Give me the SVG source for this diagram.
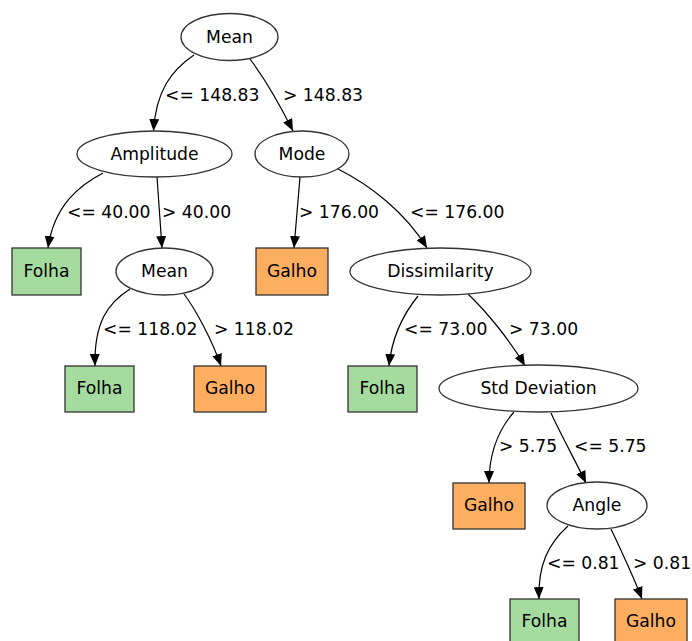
<svg xmlns="http://www.w3.org/2000/svg" width="692" height="641" viewBox="0 0 692 641">
<style>
.n{fill:#fff;stroke:#333;stroke-width:1.3}
.leafG{fill:#a6dba0;stroke:#333;stroke-width:1.3}
.leafO{fill:#fdae61;stroke:#333;stroke-width:1.3}
text{font-family:"DejaVu Sans",sans-serif;font-size:17.2px;fill:#000}
.c{text-anchor:middle}
.e{fill:none;stroke:#000;stroke-width:1.2}
</style>
<defs>
<marker id="ah" viewBox="0 0 12 10" refX="12" refY="5" markerWidth="12" markerHeight="10" markerUnits="userSpaceOnUse" orient="auto">
<path d="M0,0 L12,5 L0,10 Z" fill="#000"/>
</marker>
</defs>
<rect width="692" height="641" fill="#fff"/>
<g id="edges">
<path class="e" marker-end="url(#ah)" d="M194,55 C172,70 156,90 153.5,131"/>
<path class="e" marker-end="url(#ah)" d="M250,59 C262,75 280,105 293,131"/>
<path class="e" marker-end="url(#ah)" d="M103,173 C80,185 54,205 48,248"/>
<path class="e" marker-end="url(#ah)" d="M157,177 L162,248"/>
<path class="e" marker-end="url(#ah)" d="M300,177 L294,248"/>
<path class="e" marker-end="url(#ah)" d="M338,169 C370,185 405,212 427,248"/>
<path class="e" marker-end="url(#ah)" d="M130,289 C108,303 94,322 95,366"/>
<path class="e" marker-end="url(#ah)" d="M184,294 C196,310 212,340 221,366"/>
<path class="e" marker-end="url(#ah)" d="M418,296 C405,312 392,335 389,366"/>
<path class="e" marker-end="url(#ah)" d="M468,294 C485,310 510,340 525,366"/>
<path class="e" marker-end="url(#ah)" d="M514,412 C500,428 489,450 489,483"/>
<path class="e" marker-end="url(#ah)" d="M551,413 C560,433 576,462 586,483"/>
<path class="e" marker-end="url(#ah)" d="M568,526 C548,544 538,565 539,599"/>
<path class="e" marker-end="url(#ah)" d="M611,529 C620,548 634,578 642,599"/>
</g>
<g id="edge-labels">
<text x="165" y="101">&lt;= 148.83</text>
<text x="283" y="101">&gt; 148.83</text>
<text x="67" y="218">&lt;= 40.00</text>
<text x="162" y="218">&gt; 40.00</text>
<text x="299" y="218">&gt; 176.00</text>
<text x="410" y="218">&lt;= 176.00</text>
<text x="103" y="335">&lt;= 118.02</text>
<text x="214" y="335">&gt; 118.02</text>
<text x="404" y="335">&lt;= 73.00</text>
<text x="509" y="335">&gt; 73.00</text>
<text x="499" y="452">&gt; 5.75</text>
<text x="574" y="452">&lt;= 5.75</text>
<text x="547" y="569">&lt;= 0.81</text>
<text x="633" y="569">&gt; 0.81</text>
</g>
<g id="n0"><ellipse class="n" cx="229.5" cy="37" rx="48.5" ry="23.5"/><text class="c" x="229.5" y="42.5">Mean</text></g>
<g id="n1"><ellipse class="n" cx="154.5" cy="154" rx="77.5" ry="23"/><text class="c" x="154.5" y="159.5">Amplitude</text></g>
<g id="n2"><ellipse class="n" cx="302" cy="154" rx="47" ry="23"/><text class="c" x="302" y="159.5">Mode</text></g>
<g id="n3"><rect class="leafG" x="12" y="248" width="69" height="47"/><text class="c" x="46.5" y="277">Folha</text></g>
<g id="n4"><ellipse class="n" cx="164.5" cy="271.5" rx="48.5" ry="23.5"/><text class="c" x="164.5" y="277">Mean</text></g>
<g id="n5"><rect class="leafO" x="256" y="248" width="72" height="47"/><text class="c" x="292" y="277">Galho</text></g>
<g id="n6"><ellipse class="n" cx="440.5" cy="271.5" rx="90.5" ry="23.5"/><text class="c" x="440.5" y="277">Dissimilarity</text></g>
<g id="n7"><rect class="leafG" x="65" y="366" width="69" height="46"/><text class="c" x="99.5" y="394">Folha</text></g>
<g id="n8"><rect class="leafO" x="194" y="366" width="72" height="46"/><text class="c" x="230" y="394">Galho</text></g>
<g id="n9"><rect class="leafG" x="348" y="366" width="69" height="46"/><text class="c" x="382.5" y="394">Folha</text></g>
<g id="n10"><ellipse class="n" cx="538.5" cy="388.5" rx="99.5" ry="23.5"/><text class="c" x="538.5" y="394">Std Deviation</text></g>
<g id="n11"><rect class="leafO" x="453" y="483" width="72" height="46"/><text class="c" x="489" y="511">Galho</text></g>
<g id="n12"><ellipse class="n" cx="597" cy="505.5" rx="50" ry="23.5"/><text class="c" x="597" y="511">Angle</text></g>
<g id="n13"><rect class="leafG" x="510" y="599" width="69" height="46"/><text class="c" x="544.5" y="627">Folha</text></g>
<g id="n14"><rect class="leafO" x="615" y="599" width="72" height="46"/><text class="c" x="651" y="627">Galho</text></g>
</svg>
